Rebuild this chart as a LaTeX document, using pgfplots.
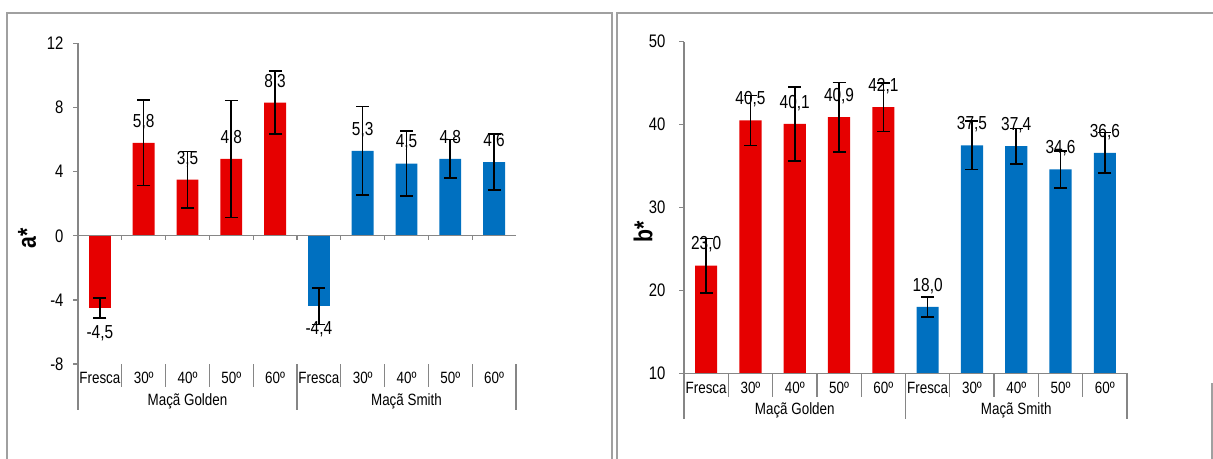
\documentclass[border=0pt]{standalone}
\usepackage{pgfplots}
\pgfplotsset{compat=1.18}
\usepackage{pgfplotstable}
\usepackage{fontspec}
\setmainfont{Liberation Sans}[FakeStretch=0.82]
\definecolor{myred}{RGB}{230,0,0}
\definecolor{myblue}{RGB}{0,112,192}
\definecolor{axgray}{RGB}{134,134,134}
\definecolor{framegray}{RGB}{160,160,160}

% a* values (negative "Fresca" bars kept apart: their labels go below)
\pgfplotstableread{
x y err lab
0 -4.5 0.62 -4,5
}\agoldenF
\pgfplotstableread{
x y err lab
1 5.8 2.67 5,8
2 3.5 1.75 3,5
3 4.8 3.65 4,8
4 8.3 1.96 8,3
}\agolden
\pgfplotstableread{
x y err lab
5 -4.4 1.13 -4,4
}\asmithF
\pgfplotstableread{
x y err lab
6 5.3 2.77 5,3
7 4.5 2.02 4,5
8 4.8 1.20 4,8
9 4.6 1.76 4,6
}\asmith
% b* values
\pgfplotstableread{
x y err lab
0 23.0 3.28 23,0
1 40.5 3.00 40,5
2 40.1 4.46 40,1
3 40.9 4.18 40,9
4 42.1 2.94 42,1
}\bgolden
\pgfplotstableread{
x y err lab
5 18.0 1.20 18,0
6 37.5 2.93 37,5
7 37.4 2.15 37,4
8 34.6 2.23 34,6
9 36.6 2.45 36,6
}\bsmith

\pgfplotsset{
  mychart/.style={
    scale only axis, xmin=-0.5, xmax=9.5,
    axis line style={draw=none},
    xtick={0,...,9},
    xticklabels={Fresca,30º,40º,50º,60º,Fresca,30º,40º,50º,60º},
    xtick style={draw=none},
    ytick pos=left, tick align=outside,
    ytick style={draw=axgray, line width=1.3bp},
    major tick length=5bp,
    yticklabel style={font=\fontsize{18.2}{21}\selectfont, text=black, xshift=-6bp},
    xticklabel style={font=\fontsize{16.4}{19}\selectfont, text=black},
    ybar, bar width=0.5,
  },
  mybars/.style 2 args={
    ybar, bar shift=0pt, fill=#1, draw=none,
    nodes near coords, point meta=explicit symbolic,
    every node near coord/.append style={font=\fontsize{18.9}{22}\selectfont, text=black, anchor=center, yshift=#2},
    error bars/.cd, y dir=both, y explicit,
    error bar style={draw=black, line width=1.6bp},
    error mark options={rotate=90, draw=black, line width=1.6bp, mark size=6.5bp},
  },
}

\begin{document}
\begin{tikzpicture}
\useasboundingbox (0,0) rectangle (1213bp,459bp);
\draw[framegray, line width=2bp] (7bp,0) -- (7bp,446bp) -- (612bp,446bp) -- (612bp,0);
\draw[framegray, line width=2bp] (617bp,0) -- (617bp,446bp) -- (1214bp,446bp);
\draw[framegray, line width=2bp] (1212bp,0) -- (1212bp,76bp);

\node[rotate=90, font=\bfseries\fontsize{26}{30}\selectfont] at (27bp,221bp) {a*};
\node[rotate=90, font=\bfseries\fontsize{26}{30}\selectfont] at (643bp,227.5bp) {b*};

\begin{axis}[mychart,
  at={(78bp,95bp)}, anchor=south west,
  width=438bp, height=320.6bp,
  ymin=-8, ymax=12,
  ytick={-8,-4,0,4,8,12}, yticklabels={-8,-4,0,4,8,12},
  extra description/.code={
    \draw[axgray, line width=1.3bp] (axis description cs:0,0) -- (axis description cs:0,1);
    \draw[axgray, line width=1.3bp] (axis description cs:0,0.4) -- (axis description cs:1,0.4);
    \foreach \xx in {0.1,0.2,0.3,0.4,0.5,0.6,0.7,0.8,0.9} {
      \draw[axgray, line width=1.3bp] (axis description cs:\xx,0.4) -- ++(0,-4bp);
    }
    \foreach \xx in {0.1,0.2,0.3,0.4,0.6,0.7,0.8,0.9} {
      \draw[axgray, line width=1.3bp] (axis description cs:\xx,0) -- ++(0,-22.7bp);
    }
    \foreach \xx in {0,0.5,1} {
      \draw[axgray, line width=1.3bp] (axis description cs:\xx,0) -- ++(0,-46bp);
    }
    \node[font=\fontsize{16.4}{19}\selectfont] at (axis description cs:0.25,0) [yshift=-37bp] {Maçã Golden};
    \node[font=\fontsize{16.4}{19}\selectfont] at (axis description cs:0.75,0) [yshift=-37bp] {Maçã Smith};
  },
]
\addplot[mybars={myred}{-25bp}] table[x=x, y=y, y error=err, meta=lab] {\agoldenF};
\addplot[mybars={myred}{21bp}] table[x=x, y=y, y error=err, meta=lab] {\agolden};
\addplot[mybars={myblue}{-23bp}] table[x=x, y=y, y error=err, meta=lab] {\asmithF};
\addplot[mybars={myblue}{21bp}] table[x=x, y=y, y error=err, meta=lab] {\asmith};
\end{axis}

\begin{axis}[mychart,
  at={(684bp,85.7bp)}, anchor=south west,
  width=443bp, height=331.6bp,
  ymin=10, ymax=50,
  ytick={10,20,30,40,50}, yticklabels={10,20,30,40,50},
  yticklabel style={xshift=-4bp},
  extra description/.code={
    \draw[axgray, line width=1.3bp] (axis description cs:0,0) -- (axis description cs:0,1);
    \draw[axgray, line width=1.3bp] (axis description cs:0,0) -- (axis description cs:1,0);
    \foreach \xx in {0.1,0.2,0.3,0.4,0.6,0.7,0.8,0.9} {
      \draw[axgray, line width=1.3bp] (axis description cs:\xx,0) -- ++(0,-23.4bp);
    }
    \foreach \xx in {0,0.5,1} {
      \draw[axgray, line width=1.3bp] (axis description cs:\xx,0) -- ++(0,-46bp);
    }
    \node[font=\fontsize{16.4}{19}\selectfont] at (axis description cs:0.25,0) [yshift=-37.5bp] {Maçã Golden};
    \node[font=\fontsize{16.4}{19}\selectfont] at (axis description cs:0.75,0) [yshift=-37.5bp] {Maçã Smith};
  },
]
\addplot[mybars={myred}{21bp}] table[x=x, y=y, y error=err, meta=lab] {\bgolden};
\addplot[mybars={myblue}{21bp}] table[x=x, y=y, y error=err, meta=lab] {\bsmith};
\end{axis}
\end{tikzpicture}
\end{document}
